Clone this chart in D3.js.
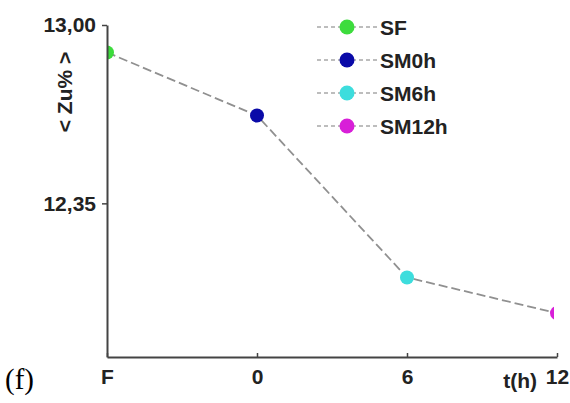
<!DOCTYPE html>
<html><head><meta charset="utf-8">
<script src="https://cdn.jsdelivr.net/npm/d3@7"></script>
<style>body{margin:0;background:#fff}svg{display:block}</style>
</head><body>
<svg id="c" width="570" height="403"></svg>
<script>
const categories = ["F", "0", "6", "12"];
const seriesNames = ["SF", "SM0h", "SM6h", "SM12h"];
const values = [12.90, 12.67, 12.08, 11.95];
const colors = ["#3ddc3d", "#0a0aa8", "#3ddddd", "#d81fd8"];
const yTicks = [12.35, 13.00];
const yLabel = "< Zu% >";
const xUnit = "t(h)";
const panel = "(f)";

const svg = d3.select("#c");
const font = "'Liberation Sans', Arial, sans-serif";
const FS = 21;
const L = 107, R = 557, T = 25, B = 357;
const x = d3.scalePoint().domain(categories).range([L, R]).padding(0);
const y = d3.scaleLinear().domain([11.79, 13.00]).range([B, T]);

svg.append("defs").append("clipPath").attr("id", "plot")
  .append("rect").attr("x", L).attr("y", T - 10).attr("width", R - L - 3).attr("height", B - T + 10);

// line
const g = svg.append("g").attr("clip-path", "url(#plot)");
g.append("path")
  .datum(values)
  .attr("d", d3.line().x((d, i) => x(categories[i])).y(d => y(d)))
  .attr("fill", "none").attr("stroke", "#909090").attr("stroke-width", 1.8)
  .attr("stroke-dasharray", "9,4");
g.selectAll("circle").data(values).join("circle")
  .attr("cx", (d, i) => x(categories[i])).attr("cy", d => y(d))
  .attr("r", 7).attr("fill", (d, i) => colors[i]);

// axes
const yAxis = d3.axisLeft(y).tickValues(yTicks).tickSizeInner(5).tickSizeOuter(0).tickPadding(6)
  .tickFormat(d => d3.format(".2f")(d).replace(".", ","));
const ya = svg.append("g").attr("transform", `translate(${L},0)`).call(yAxis);
const xAxis = d3.axisBottom(x).tickSizeInner(-4).tickSizeOuter(0).tickPadding(12);
const xa = svg.append("g").attr("transform", `translate(0,${B})`).call(xAxis);
[ya, xa].forEach(a => {
  a.select(".domain").attr("stroke", "#444").attr("stroke-width", 2);
  a.selectAll(".tick line").attr("stroke", "#444").attr("stroke-width", 1.5);
  a.selectAll(".tick text").attr("font-family", font).attr("font-weight", "bold")
    .attr("font-size", FS).attr("fill", "#222");
});

svg.append("text").attr("x", 537).attr("y", 388).attr("text-anchor", "end")
  .attr("font-family", font).attr("font-weight", "bold").attr("font-size", FS).attr("fill", "#222")
  .text(xUnit);

svg.append("text").attr("transform", "translate(72,92) rotate(-90)").attr("text-anchor", "middle")
  .attr("font-family", font).attr("font-weight", "bold").attr("font-size", FS).attr("fill", "#222")
  .text(yLabel);

svg.append("text").attr("x", 5).attr("y", 389)
  .attr("font-family", "'Liberation Serif', 'Times New Roman', serif").attr("font-size", 29).attr("fill", "#000")
  .text(panel);

// legend
const leg = svg.append("g");
const items = leg.selectAll("g").data(seriesNames).join("g")
  .attr("transform", (d, i) => `translate(347,${27 + i * 33})`);
items.append("line").attr("x1", -30).attr("x2", 30).attr("stroke", "#a8a8a8")
  .attr("stroke-width", 1.5).attr("stroke-dasharray", "4,3");
items.append("circle").attr("r", 7.5).attr("fill", (d, i) => colors[i]);
items.append("text").attr("x", 33).attr("y", 8)
  .attr("font-family", font).attr("font-weight", "bold").attr("font-size", FS).attr("fill", "#222")
  .text(d => d);
</script>
</body></html>
